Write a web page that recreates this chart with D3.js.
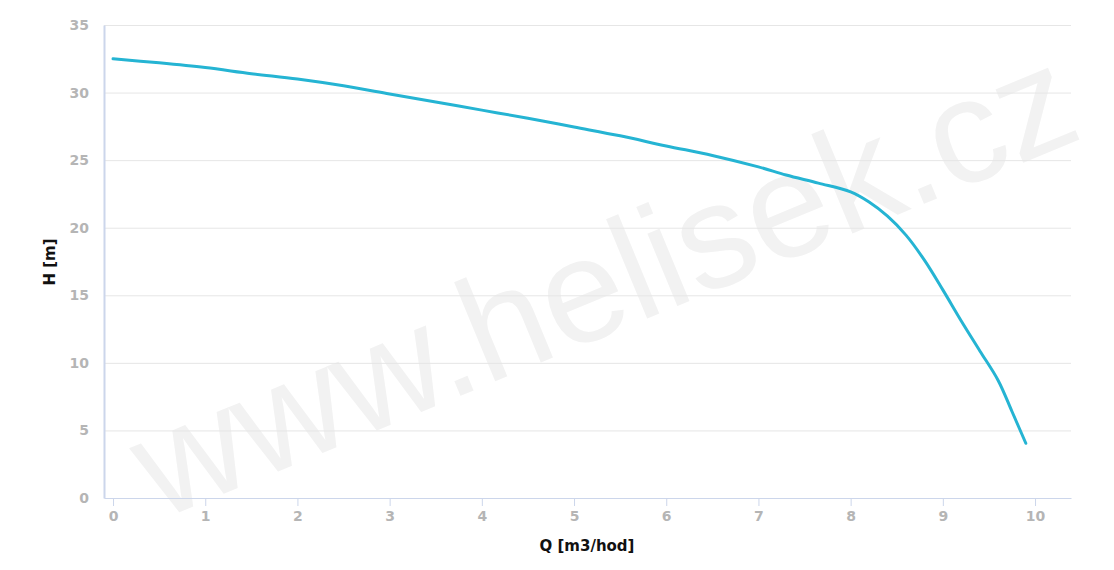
<!DOCTYPE html>
<html><head><meta charset="utf-8">
<script src="https://cdn.jsdelivr.net/npm/d3@7"></script>
<style>
html,body{margin:0;padding:0;background:#fff;}
svg{display:block;}
</style></head>
<body>
<svg id="chart" width="1114" height="570"></svg>
<script>
const flowQ = [0, 0.5, 1, 1.5, 2, 2.5, 3, 3.5, 4, 4.5, 5, 5.5, 6, 6.5, 7, 7.3, 7.65, 8, 8.2, 8.4, 8.6, 8.8, 9, 9.2, 9.4, 9.6, 9.75, 9.9];
const headH = [32.5, 32.2, 31.85, 31.4, 31.0, 30.5, 29.9, 29.3, 28.7, 28.1, 27.45, 26.8, 26.05, 25.35, 24.5, 23.9, 23.3, 22.65, 21.9, 20.85, 19.45, 17.6, 15.4, 13.1, 10.9, 8.7, 6.4, 4.05];
const xTicks = [0,1,2,3,4,5,6,7,8,9,10];
const yTicks = [0,5,10,15,20,25,30,35];
const xTitle = "Q [m3/hod]";
const yTitle = "H [m]";
const watermark = "www.helisek.cz";

const svg = d3.select("#chart");
const pL = 104, pR = 1071, pT = 25, pB = 498;
const x = d3.scaleLinear().domain([-0.098, 10.39]).range([pL, pR]);
const y = d3.scaleLinear().domain([0, 35]).range([pB, pT]);

// watermark
svg.append("text")
  .attr("transform", "translate(603,281) rotate(-22.5)")
  .attr("text-anchor", "middle")
  .attr("dominant-baseline", "central")
  .attr("font-family", "Liberation Sans, Arial, sans-serif")
  .attr("font-size", 148)
  .attr("fill", "#f2f2f2")
  .text(watermark);

// gridlines
svg.append("g").selectAll("line").data(yTicks.filter(d => d > 0)).join("line")
  .attr("x1", pL).attr("x2", pR)
  .attr("y1", d => y(d) + 0.5).attr("y2", d => y(d) + 0.5)
  .attr("stroke", "#e6e6e6").attr("stroke-width", 1);

// y axis
const yAxis = svg.append("g").attr("transform", `translate(${pL},0)`)
  .call(d3.axisLeft(y).tickValues(yTicks).tickSize(0).tickPadding(15));
yAxis.select(".domain").attr("stroke", "#ccd6eb").attr("stroke-width", 2);
yAxis.selectAll("text").attr("font-family", "DejaVu Sans, Verdana, sans-serif")
  .attr("font-size", 14).attr("font-weight", "bold").attr("fill", "#b5b5b5");

// x axis
const xAxis = svg.append("g").attr("transform", `translate(0,${pB})`)
  .call(d3.axisBottom(x).tickValues(xTicks).tickSize(8).tickPadding(5).tickSizeOuter(0));
xAxis.select(".domain").attr("stroke", "#ccd6eb").attr("stroke-width", 1);
xAxis.selectAll(".tick line").attr("stroke", "#ccd6eb");
xAxis.selectAll("text").attr("font-family", "DejaVu Sans, Verdana, sans-serif")
  .attr("font-size", 14).attr("font-weight", "bold").attr("fill", "#b5b5b5");

// titles
svg.append("text").attr("x", 587).attr("y", 551).attr("text-anchor", "middle")
  .attr("font-family", "DejaVu Sans, Verdana, sans-serif").attr("font-size", 15)
  .attr("font-weight", "bold").attr("fill", "#111").text(xTitle);
svg.append("text").attr("transform", "translate(55,262) rotate(-90)").attr("text-anchor", "middle")
  .attr("font-family", "DejaVu Sans, Verdana, sans-serif").attr("font-size", 15)
  .attr("font-weight", "bold").attr("fill", "#111").text(yTitle);

// curve
const pts = flowQ.map((q, i) => [q, headH[i]]);
svg.append("path").datum(pts)
  .attr("fill", "none").attr("stroke", "#25b4d3").attr("stroke-width", 3)
  .attr("stroke-linejoin", "round").attr("stroke-linecap", "round")
  .attr("d", d3.line().x(d => x(d[0])).y(d => y(d[1])).curve(d3.curveCatmullRom.alpha(0.5)));
</script>
</body></html>
